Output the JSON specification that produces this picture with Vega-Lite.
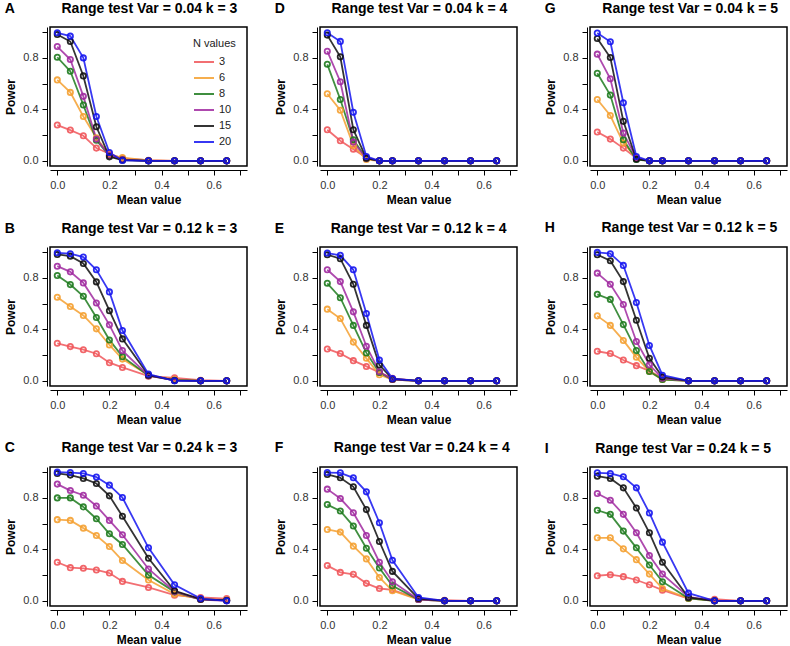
{
"$schema":"https://vega.github.io/schema/vega-lite/v6.json",
"background":"white",
"padding":{"left":3,"top":0,"right":2,"bottom":0},
"datasets":{"rows":[
{"panel":"A","N":3,"mean":0,"power":0.278},{"panel":"A","N":3,"mean":0.05,"power":0.239},{"panel":"A","N":3,"mean":0.1,"power":0.195},{"panel":"A","N":3,"mean":0.15,"power":0.099},{"panel":"A","N":3,"mean":0.2,"power":0.055},{"panel":"A","N":3,"mean":0.25,"power":0.02},{"panel":"A","N":3,"mean":0.35,"power":0.005},{"panel":"A","N":3,"mean":0.45,"power":0},{"panel":"A","N":3,"mean":0.55,"power":0},{"panel":"A","N":3,"mean":0.65,"power":0},
{"panel":"A","N":6,"mean":0,"power":0.629},{"panel":"A","N":6,"mean":0.05,"power":0.532},{"panel":"A","N":6,"mean":0.1,"power":0.345},{"panel":"A","N":6,"mean":0.15,"power":0.18},{"panel":"A","N":6,"mean":0.2,"power":0.047},{"panel":"A","N":6,"mean":0.25,"power":0.025},{"panel":"A","N":6,"mean":0.35,"power":0.003},{"panel":"A","N":6,"mean":0.45,"power":0},{"panel":"A","N":6,"mean":0.55,"power":0},{"panel":"A","N":6,"mean":0.65,"power":0},
{"panel":"A","N":8,"mean":0,"power":0.805},{"panel":"A","N":8,"mean":0.05,"power":0.696},{"panel":"A","N":8,"mean":0.1,"power":0.434},{"panel":"A","N":8,"mean":0.15,"power":0.16},{"panel":"A","N":8,"mean":0.2,"power":0.04},{"panel":"A","N":8,"mean":0.25,"power":0.01},{"panel":"A","N":8,"mean":0.35,"power":0},{"panel":"A","N":8,"mean":0.45,"power":0},{"panel":"A","N":8,"mean":0.55,"power":0},{"panel":"A","N":8,"mean":0.65,"power":0},
{"panel":"A","N":10,"mean":0,"power":0.888},{"panel":"A","N":10,"mean":0.05,"power":0.787},{"panel":"A","N":10,"mean":0.1,"power":0.501},{"panel":"A","N":10,"mean":0.15,"power":0.169},{"panel":"A","N":10,"mean":0.2,"power":0.044},{"panel":"A","N":10,"mean":0.25,"power":0.01},{"panel":"A","N":10,"mean":0.35,"power":0},{"panel":"A","N":10,"mean":0.45,"power":0},{"panel":"A","N":10,"mean":0.55,"power":0},{"panel":"A","N":10,"mean":0.65,"power":0},
{"panel":"A","N":15,"mean":0,"power":0.982},{"panel":"A","N":15,"mean":0.05,"power":0.927},{"panel":"A","N":15,"mean":0.1,"power":0.66},{"panel":"A","N":15,"mean":0.15,"power":0.265},{"panel":"A","N":15,"mean":0.2,"power":0.031},{"panel":"A","N":15,"mean":0.25,"power":0.005},{"panel":"A","N":15,"mean":0.35,"power":0},{"panel":"A","N":15,"mean":0.45,"power":0},{"panel":"A","N":15,"mean":0.55,"power":0},{"panel":"A","N":15,"mean":0.65,"power":0},
{"panel":"A","N":20,"mean":0,"power":0.995},{"panel":"A","N":20,"mean":0.05,"power":0.969},{"panel":"A","N":20,"mean":0.1,"power":0.8},{"panel":"A","N":20,"mean":0.15,"power":0.345},{"panel":"A","N":20,"mean":0.2,"power":0.065},{"panel":"A","N":20,"mean":0.25,"power":0.003},{"panel":"A","N":20,"mean":0.35,"power":0},{"panel":"A","N":20,"mean":0.45,"power":0},{"panel":"A","N":20,"mean":0.55,"power":0},{"panel":"A","N":20,"mean":0.65,"power":0},

{"panel":"D","N":3,"mean":0,"power":0.242},{"panel":"D","N":3,"mean":0.05,"power":0.156},{"panel":"D","N":3,"mean":0.1,"power":0.091},{"panel":"D","N":3,"mean":0.15,"power":0.025},{"panel":"D","N":3,"mean":0.2,"power":0},{"panel":"D","N":3,"mean":0.25,"power":0},{"panel":"D","N":3,"mean":0.35,"power":0},{"panel":"D","N":3,"mean":0.45,"power":0},{"panel":"D","N":3,"mean":0.55,"power":0},{"panel":"D","N":3,"mean":0.65,"power":0},
{"panel":"D","N":6,"mean":0,"power":0.521},{"panel":"D","N":6,"mean":0.05,"power":0.393},{"panel":"D","N":6,"mean":0.1,"power":0.12},{"panel":"D","N":6,"mean":0.15,"power":0.01},{"panel":"D","N":6,"mean":0.2,"power":0},{"panel":"D","N":6,"mean":0.25,"power":0},{"panel":"D","N":6,"mean":0.35,"power":0},{"panel":"D","N":6,"mean":0.45,"power":0},{"panel":"D","N":6,"mean":0.55,"power":0},{"panel":"D","N":6,"mean":0.65,"power":0},
{"panel":"D","N":8,"mean":0,"power":0.75},{"panel":"D","N":8,"mean":0.05,"power":0.477},{"panel":"D","N":8,"mean":0.1,"power":0.164},{"panel":"D","N":8,"mean":0.15,"power":0.02},{"panel":"D","N":8,"mean":0.2,"power":0},{"panel":"D","N":8,"mean":0.25,"power":0},{"panel":"D","N":8,"mean":0.35,"power":0},{"panel":"D","N":8,"mean":0.45,"power":0},{"panel":"D","N":8,"mean":0.55,"power":0},{"panel":"D","N":8,"mean":0.65,"power":0},
{"panel":"D","N":10,"mean":0,"power":0.852},{"panel":"D","N":10,"mean":0.05,"power":0.615},{"panel":"D","N":10,"mean":0.1,"power":0.146},{"panel":"D","N":10,"mean":0.15,"power":0.02},{"panel":"D","N":10,"mean":0.2,"power":0},{"panel":"D","N":10,"mean":0.25,"power":0},{"panel":"D","N":10,"mean":0.35,"power":0},{"panel":"D","N":10,"mean":0.45,"power":0},{"panel":"D","N":10,"mean":0.55,"power":0},{"panel":"D","N":10,"mean":0.65,"power":0},
{"panel":"D","N":15,"mean":0,"power":0.977},{"panel":"D","N":15,"mean":0.05,"power":0.808},{"panel":"D","N":15,"mean":0.1,"power":0.242},{"panel":"D","N":15,"mean":0.15,"power":0.02},{"panel":"D","N":15,"mean":0.2,"power":0},{"panel":"D","N":15,"mean":0.25,"power":0},{"panel":"D","N":15,"mean":0.35,"power":0},{"panel":"D","N":15,"mean":0.45,"power":0},{"panel":"D","N":15,"mean":0.55,"power":0},{"panel":"D","N":15,"mean":0.65,"power":0},
{"panel":"D","N":20,"mean":0,"power":0.995},{"panel":"D","N":20,"mean":0.05,"power":0.928},{"panel":"D","N":20,"mean":0.1,"power":0.378},{"panel":"D","N":20,"mean":0.15,"power":0.034},{"panel":"D","N":20,"mean":0.2,"power":0},{"panel":"D","N":20,"mean":0.25,"power":0},{"panel":"D","N":20,"mean":0.35,"power":0},{"panel":"D","N":20,"mean":0.45,"power":0},{"panel":"D","N":20,"mean":0.55,"power":0},{"panel":"D","N":20,"mean":0.65,"power":0},

{"panel":"G","N":3,"mean":0,"power":0.224},{"panel":"G","N":3,"mean":0.05,"power":0.169},{"panel":"G","N":3,"mean":0.1,"power":0.099},{"panel":"G","N":3,"mean":0.15,"power":0.02},{"panel":"G","N":3,"mean":0.2,"power":0},{"panel":"G","N":3,"mean":0.25,"power":0},{"panel":"G","N":3,"mean":0.35,"power":0},{"panel":"G","N":3,"mean":0.45,"power":0},{"panel":"G","N":3,"mean":0.55,"power":0},{"panel":"G","N":3,"mean":0.65,"power":0},
{"panel":"G","N":6,"mean":0,"power":0.477},{"panel":"G","N":6,"mean":0.05,"power":0.352},{"panel":"G","N":6,"mean":0.1,"power":0.138},{"panel":"G","N":6,"mean":0.15,"power":0.02},{"panel":"G","N":6,"mean":0.2,"power":0},{"panel":"G","N":6,"mean":0.25,"power":0},{"panel":"G","N":6,"mean":0.35,"power":0},{"panel":"G","N":6,"mean":0.45,"power":0},{"panel":"G","N":6,"mean":0.55,"power":0},{"panel":"G","N":6,"mean":0.65,"power":0},
{"panel":"G","N":8,"mean":0,"power":0.68},{"panel":"G","N":8,"mean":0.05,"power":0.511},{"panel":"G","N":8,"mean":0.1,"power":0.164},{"panel":"G","N":8,"mean":0.15,"power":0.01},{"panel":"G","N":8,"mean":0.2,"power":0},{"panel":"G","N":8,"mean":0.25,"power":0},{"panel":"G","N":8,"mean":0.35,"power":0},{"panel":"G","N":8,"mean":0.45,"power":0},{"panel":"G","N":8,"mean":0.55,"power":0},{"panel":"G","N":8,"mean":0.65,"power":0},
{"panel":"G","N":10,"mean":0,"power":0.829},{"panel":"G","N":10,"mean":0.05,"power":0.638},{"panel":"G","N":10,"mean":0.1,"power":0.216},{"panel":"G","N":10,"mean":0.15,"power":0.02},{"panel":"G","N":10,"mean":0.2,"power":0},{"panel":"G","N":10,"mean":0.25,"power":0},{"panel":"G","N":10,"mean":0.35,"power":0},{"panel":"G","N":10,"mean":0.45,"power":0},{"panel":"G","N":10,"mean":0.55,"power":0},{"panel":"G","N":10,"mean":0.65,"power":0},
{"panel":"G","N":15,"mean":0,"power":0.951},{"panel":"G","N":15,"mean":0.05,"power":0.803},{"panel":"G","N":15,"mean":0.1,"power":0.307},{"panel":"G","N":15,"mean":0.15,"power":0.013},{"panel":"G","N":15,"mean":0.2,"power":0},{"panel":"G","N":15,"mean":0.25,"power":0},{"panel":"G","N":15,"mean":0.35,"power":0},{"panel":"G","N":15,"mean":0.45,"power":0},{"panel":"G","N":15,"mean":0.55,"power":0},{"panel":"G","N":15,"mean":0.65,"power":0},
{"panel":"G","N":20,"mean":0,"power":0.993},{"panel":"G","N":20,"mean":0.05,"power":0.925},{"panel":"G","N":20,"mean":0.1,"power":0.451},{"panel":"G","N":20,"mean":0.15,"power":0.034},{"panel":"G","N":20,"mean":0.2,"power":0},{"panel":"G","N":20,"mean":0.25,"power":0},{"panel":"G","N":20,"mean":0.35,"power":0},{"panel":"G","N":20,"mean":0.45,"power":0},{"panel":"G","N":20,"mean":0.55,"power":0},{"panel":"G","N":20,"mean":0.65,"power":0},

{"panel":"B","N":3,"mean":0,"power":0.292},{"panel":"B","N":3,"mean":0.05,"power":0.266},{"panel":"B","N":3,"mean":0.1,"power":0.242},{"panel":"B","N":3,"mean":0.15,"power":0.211},{"panel":"B","N":3,"mean":0.2,"power":0.141},{"panel":"B","N":3,"mean":0.25,"power":0.104},{"panel":"B","N":3,"mean":0.35,"power":0.036},{"panel":"B","N":3,"mean":0.45,"power":0.023},{"panel":"B","N":3,"mean":0.55,"power":0.005},{"panel":"B","N":3,"mean":0.65,"power":0},
{"panel":"B","N":6,"mean":0,"power":0.649},{"panel":"B","N":6,"mean":0.05,"power":0.578},{"panel":"B","N":6,"mean":0.1,"power":0.508},{"panel":"B","N":6,"mean":0.15,"power":0.404},{"panel":"B","N":6,"mean":0.2,"power":0.279},{"panel":"B","N":6,"mean":0.25,"power":0.169},{"panel":"B","N":6,"mean":0.35,"power":0.044},{"panel":"B","N":6,"mean":0.45,"power":0.01},{"panel":"B","N":6,"mean":0.55,"power":0},{"panel":"B","N":6,"mean":0.65,"power":0},
{"panel":"B","N":8,"mean":0,"power":0.818},{"panel":"B","N":8,"mean":0.05,"power":0.748},{"panel":"B","N":8,"mean":0.1,"power":0.657},{"panel":"B","N":8,"mean":0.15,"power":0.492},{"panel":"B","N":8,"mean":0.2,"power":0.318},{"panel":"B","N":8,"mean":0.25,"power":0.188},{"panel":"B","N":8,"mean":0.35,"power":0.04},{"panel":"B","N":8,"mean":0.45,"power":0.005},{"panel":"B","N":8,"mean":0.55,"power":0},{"panel":"B","N":8,"mean":0.65,"power":0},
{"panel":"B","N":10,"mean":0,"power":0.891},{"panel":"B","N":10,"mean":0.05,"power":0.847},{"panel":"B","N":10,"mean":0.1,"power":0.761},{"panel":"B","N":10,"mean":0.15,"power":0.605},{"panel":"B","N":10,"mean":0.2,"power":0.435},{"panel":"B","N":10,"mean":0.25,"power":0.235},{"panel":"B","N":10,"mean":0.35,"power":0.04},{"panel":"B","N":10,"mean":0.45,"power":0.003},{"panel":"B","N":10,"mean":0.55,"power":0},{"panel":"B","N":10,"mean":0.65,"power":0},
{"panel":"B","N":15,"mean":0,"power":0.982},{"panel":"B","N":15,"mean":0.05,"power":0.969},{"panel":"B","N":15,"mean":0.1,"power":0.912},{"panel":"B","N":15,"mean":0.15,"power":0.769},{"panel":"B","N":15,"mean":0.2,"power":0.545},{"panel":"B","N":15,"mean":0.25,"power":0.326},{"panel":"B","N":15,"mean":0.35,"power":0.044},{"panel":"B","N":15,"mean":0.45,"power":0.003},{"panel":"B","N":15,"mean":0.55,"power":0},{"panel":"B","N":15,"mean":0.65,"power":0},
{"panel":"B","N":20,"mean":0,"power":0.995},{"panel":"B","N":20,"mean":0.05,"power":0.988},{"panel":"B","N":20,"mean":0.1,"power":0.962},{"panel":"B","N":20,"mean":0.15,"power":0.863},{"panel":"B","N":20,"mean":0.2,"power":0.691},{"panel":"B","N":20,"mean":0.25,"power":0.391},{"panel":"B","N":20,"mean":0.35,"power":0.052},{"panel":"B","N":20,"mean":0.45,"power":0},{"panel":"B","N":20,"mean":0.55,"power":0},{"panel":"B","N":20,"mean":0.65,"power":0},

{"panel":"E","N":3,"mean":0,"power":0.248},{"panel":"E","N":3,"mean":0.05,"power":0.212},{"panel":"E","N":3,"mean":0.1,"power":0.157},{"panel":"E","N":3,"mean":0.15,"power":0.112},{"panel":"E","N":3,"mean":0.2,"power":0.065},{"panel":"E","N":3,"mean":0.25,"power":0.02},{"panel":"E","N":3,"mean":0.35,"power":0},{"panel":"E","N":3,"mean":0.45,"power":0},{"panel":"E","N":3,"mean":0.55,"power":0},{"panel":"E","N":3,"mean":0.65,"power":0},
{"panel":"E","N":6,"mean":0,"power":0.557},{"panel":"E","N":6,"mean":0.05,"power":0.484},{"panel":"E","N":6,"mean":0.1,"power":0.301},{"panel":"E","N":6,"mean":0.15,"power":0.175},{"panel":"E","N":6,"mean":0.2,"power":0.047},{"panel":"E","N":6,"mean":0.25,"power":0.01},{"panel":"E","N":6,"mean":0.35,"power":0},{"panel":"E","N":6,"mean":0.45,"power":0},{"panel":"E","N":6,"mean":0.55,"power":0},{"panel":"E","N":6,"mean":0.65,"power":0},
{"panel":"E","N":8,"mean":0,"power":0.758},{"panel":"E","N":8,"mean":0.05,"power":0.646},{"panel":"E","N":8,"mean":0.1,"power":0.431},{"panel":"E","N":8,"mean":0.15,"power":0.217},{"panel":"E","N":8,"mean":0.2,"power":0.065},{"panel":"E","N":8,"mean":0.25,"power":0.01},{"panel":"E","N":8,"mean":0.35,"power":0},{"panel":"E","N":8,"mean":0.45,"power":0},{"panel":"E","N":8,"mean":0.55,"power":0},{"panel":"E","N":8,"mean":0.65,"power":0},
{"panel":"E","N":10,"mean":0,"power":0.863},{"panel":"E","N":10,"mean":0.05,"power":0.771},{"panel":"E","N":10,"mean":0.1,"power":0.536},{"panel":"E","N":10,"mean":0.15,"power":0.269},{"panel":"E","N":10,"mean":0.2,"power":0.071},{"panel":"E","N":10,"mean":0.25,"power":0.01},{"panel":"E","N":10,"mean":0.35,"power":0},{"panel":"E","N":10,"mean":0.45,"power":0},{"panel":"E","N":10,"mean":0.55,"power":0},{"panel":"E","N":10,"mean":0.65,"power":0},
{"panel":"E","N":15,"mean":0,"power":0.98},{"panel":"E","N":15,"mean":0.05,"power":0.949},{"panel":"E","N":15,"mean":0.1,"power":0.75},{"panel":"E","N":15,"mean":0.15,"power":0.431},{"panel":"E","N":15,"mean":0.2,"power":0.123},{"panel":"E","N":15,"mean":0.25,"power":0.015},{"panel":"E","N":15,"mean":0.35,"power":0},{"panel":"E","N":15,"mean":0.45,"power":0},{"panel":"E","N":15,"mean":0.55,"power":0},{"panel":"E","N":15,"mean":0.65,"power":0},
{"panel":"E","N":20,"mean":0,"power":0.993},{"panel":"E","N":20,"mean":0.05,"power":0.975},{"panel":"E","N":20,"mean":0.1,"power":0.863},{"panel":"E","N":20,"mean":0.15,"power":0.523},{"panel":"E","N":20,"mean":0.2,"power":0.162},{"panel":"E","N":20,"mean":0.25,"power":0.018},{"panel":"E","N":20,"mean":0.35,"power":0},{"panel":"E","N":20,"mean":0.45,"power":0},{"panel":"E","N":20,"mean":0.55,"power":0},{"panel":"E","N":20,"mean":0.65,"power":0},

{"panel":"H","N":3,"mean":0,"power":0.23},{"panel":"H","N":3,"mean":0.05,"power":0.212},{"panel":"H","N":3,"mean":0.1,"power":0.162},{"panel":"H","N":3,"mean":0.15,"power":0.118},{"panel":"H","N":3,"mean":0.2,"power":0.078},{"panel":"H","N":3,"mean":0.25,"power":0.02},{"panel":"H","N":3,"mean":0.35,"power":0},{"panel":"H","N":3,"mean":0.45,"power":0},{"panel":"H","N":3,"mean":0.55,"power":0},{"panel":"H","N":3,"mean":0.65,"power":0},
{"panel":"H","N":6,"mean":0,"power":0.505},{"panel":"H","N":6,"mean":0.05,"power":0.431},{"panel":"H","N":6,"mean":0.1,"power":0.314},{"panel":"H","N":6,"mean":0.15,"power":0.183},{"panel":"H","N":6,"mean":0.2,"power":0.073},{"panel":"H","N":6,"mean":0.25,"power":0.01},{"panel":"H","N":6,"mean":0.35,"power":0},{"panel":"H","N":6,"mean":0.45,"power":0},{"panel":"H","N":6,"mean":0.55,"power":0},{"panel":"H","N":6,"mean":0.65,"power":0},
{"panel":"H","N":8,"mean":0,"power":0.672},{"panel":"H","N":8,"mean":0.05,"power":0.633},{"panel":"H","N":8,"mean":0.1,"power":0.437},{"panel":"H","N":8,"mean":0.15,"power":0.235},{"panel":"H","N":8,"mean":0.2,"power":0.073},{"panel":"H","N":8,"mean":0.25,"power":0.01},{"panel":"H","N":8,"mean":0.35,"power":0},{"panel":"H","N":8,"mean":0.45,"power":0},{"panel":"H","N":8,"mean":0.55,"power":0},{"panel":"H","N":8,"mean":0.65,"power":0},
{"panel":"H","N":10,"mean":0,"power":0.837},{"panel":"H","N":10,"mean":0.05,"power":0.75},{"panel":"H","N":10,"mean":0.1,"power":0.593},{"panel":"H","N":10,"mean":0.15,"power":0.306},{"panel":"H","N":10,"mean":0.2,"power":0.125},{"panel":"H","N":10,"mean":0.25,"power":0.02},{"panel":"H","N":10,"mean":0.35,"power":0},{"panel":"H","N":10,"mean":0.45,"power":0},{"panel":"H","N":10,"mean":0.55,"power":0},{"panel":"H","N":10,"mean":0.65,"power":0},
{"panel":"H","N":15,"mean":0,"power":0.98},{"panel":"H","N":15,"mean":0.05,"power":0.933},{"panel":"H","N":15,"mean":0.1,"power":0.771},{"panel":"H","N":15,"mean":0.15,"power":0.471},{"panel":"H","N":15,"mean":0.2,"power":0.175},{"panel":"H","N":15,"mean":0.25,"power":0.03},{"panel":"H","N":15,"mean":0.35,"power":0},{"panel":"H","N":15,"mean":0.45,"power":0},{"panel":"H","N":15,"mean":0.55,"power":0},{"panel":"H","N":15,"mean":0.65,"power":0},
{"panel":"H","N":20,"mean":0,"power":0.998},{"panel":"H","N":20,"mean":0.05,"power":0.988},{"panel":"H","N":20,"mean":0.1,"power":0.897},{"panel":"H","N":20,"mean":0.15,"power":0.609},{"panel":"H","N":20,"mean":0.2,"power":0.275},{"panel":"H","N":20,"mean":0.25,"power":0.044},{"panel":"H","N":20,"mean":0.35,"power":0},{"panel":"H","N":20,"mean":0.45,"power":0},{"panel":"H","N":20,"mean":0.55,"power":0},{"panel":"H","N":20,"mean":0.65,"power":0},

{"panel":"C","N":3,"mean":0,"power":0.3},{"panel":"C","N":3,"mean":0.05,"power":0.258},{"panel":"C","N":3,"mean":0.1,"power":0.253},{"panel":"C","N":3,"mean":0.15,"power":0.24},{"panel":"C","N":3,"mean":0.2,"power":0.216},{"panel":"C","N":3,"mean":0.25,"power":0.151},{"panel":"C","N":3,"mean":0.35,"power":0.104},{"panel":"C","N":3,"mean":0.45,"power":0.044},{"panel":"C","N":3,"mean":0.55,"power":0.026},{"panel":"C","N":3,"mean":0.65,"power":0.018},
{"panel":"C","N":6,"mean":0,"power":0.631},{"panel":"C","N":6,"mean":0.05,"power":0.625},{"panel":"C","N":6,"mean":0.1,"power":0.565},{"panel":"C","N":6,"mean":0.15,"power":0.508},{"panel":"C","N":6,"mean":0.2,"power":0.422},{"panel":"C","N":6,"mean":0.25,"power":0.313},{"panel":"C","N":6,"mean":0.35,"power":0.162},{"panel":"C","N":6,"mean":0.45,"power":0.052},{"panel":"C","N":6,"mean":0.55,"power":0.015},{"panel":"C","N":6,"mean":0.65,"power":0.005},
{"panel":"C","N":8,"mean":0,"power":0.8},{"panel":"C","N":8,"mean":0.05,"power":0.8},{"panel":"C","N":8,"mean":0.1,"power":0.73},{"panel":"C","N":8,"mean":0.15,"power":0.638},{"panel":"C","N":8,"mean":0.2,"power":0.521},{"panel":"C","N":8,"mean":0.25,"power":0.438},{"panel":"C","N":8,"mean":0.35,"power":0.2},{"panel":"C","N":8,"mean":0.45,"power":0.07},{"panel":"C","N":8,"mean":0.55,"power":0.01},{"panel":"C","N":8,"mean":0.65,"power":0.005},
{"panel":"C","N":10,"mean":0,"power":0.907},{"panel":"C","N":10,"mean":0.05,"power":0.857},{"panel":"C","N":10,"mean":0.1,"power":0.821},{"panel":"C","N":10,"mean":0.15,"power":0.737},{"panel":"C","N":10,"mean":0.2,"power":0.625},{"panel":"C","N":10,"mean":0.25,"power":0.513},{"panel":"C","N":10,"mean":0.35,"power":0.248},{"panel":"C","N":10,"mean":0.45,"power":0.073},{"panel":"C","N":10,"mean":0.55,"power":0.01},{"panel":"C","N":10,"mean":0.65,"power":0},
{"panel":"C","N":15,"mean":0,"power":0.99},{"panel":"C","N":15,"mean":0.05,"power":0.977},{"panel":"C","N":15,"mean":0.1,"power":0.951},{"panel":"C","N":15,"mean":0.15,"power":0.912},{"panel":"C","N":15,"mean":0.2,"power":0.816},{"panel":"C","N":15,"mean":0.25,"power":0.657},{"panel":"C","N":15,"mean":0.35,"power":0.331},{"panel":"C","N":15,"mean":0.45,"power":0.078},{"panel":"C","N":15,"mean":0.55,"power":0.013},{"panel":"C","N":15,"mean":0.65,"power":0.003},
{"panel":"C","N":20,"mean":0,"power":1.0},{"panel":"C","N":20,"mean":0.05,"power":0.997},{"panel":"C","N":20,"mean":0.1,"power":0.99},{"panel":"C","N":20,"mean":0.15,"power":0.962},{"panel":"C","N":20,"mean":0.2,"power":0.899},{"panel":"C","N":20,"mean":0.25,"power":0.803},{"panel":"C","N":20,"mean":0.35,"power":0.412},{"panel":"C","N":20,"mean":0.45,"power":0.125},{"panel":"C","N":20,"mean":0.55,"power":0.018},{"panel":"C","N":20,"mean":0.65,"power":0},

{"panel":"F","N":3,"mean":0,"power":0.274},{"panel":"F","N":3,"mean":0.05,"power":0.221},{"panel":"F","N":3,"mean":0.1,"power":0.206},{"panel":"F","N":3,"mean":0.15,"power":0.136},{"panel":"F","N":3,"mean":0.2,"power":0.096},{"panel":"F","N":3,"mean":0.25,"power":0.086},{"panel":"F","N":3,"mean":0.35,"power":0.013},{"panel":"F","N":3,"mean":0.45,"power":0.005},{"panel":"F","N":3,"mean":0.55,"power":0},{"panel":"F","N":3,"mean":0.65,"power":0},
{"panel":"F","N":6,"mean":0,"power":0.555},{"panel":"F","N":6,"mean":0.05,"power":0.534},{"panel":"F","N":6,"mean":0.1,"power":0.425},{"panel":"F","N":6,"mean":0.15,"power":0.326},{"panel":"F","N":6,"mean":0.2,"power":0.182},{"panel":"F","N":6,"mean":0.25,"power":0.078},{"panel":"F","N":6,"mean":0.35,"power":0.01},{"panel":"F","N":6,"mean":0.45,"power":0},{"panel":"F","N":6,"mean":0.55,"power":0},{"panel":"F","N":6,"mean":0.65,"power":0},
{"panel":"F","N":8,"mean":0,"power":0.748},{"panel":"F","N":8,"mean":0.05,"power":0.698},{"panel":"F","N":8,"mean":0.1,"power":0.581},{"panel":"F","N":8,"mean":0.15,"power":0.409},{"panel":"F","N":8,"mean":0.2,"power":0.255},{"panel":"F","N":8,"mean":0.25,"power":0.117},{"panel":"F","N":8,"mean":0.35,"power":0.01},{"panel":"F","N":8,"mean":0.45,"power":0},{"panel":"F","N":8,"mean":0.55,"power":0},{"panel":"F","N":8,"mean":0.65,"power":0},
{"panel":"F","N":10,"mean":0,"power":0.868},{"panel":"F","N":10,"mean":0.05,"power":0.795},{"panel":"F","N":10,"mean":0.1,"power":0.685},{"panel":"F","N":10,"mean":0.15,"power":0.508},{"panel":"F","N":10,"mean":0.2,"power":0.3},{"panel":"F","N":10,"mean":0.25,"power":0.149},{"panel":"F","N":10,"mean":0.35,"power":0.01},{"panel":"F","N":10,"mean":0.45,"power":0},{"panel":"F","N":10,"mean":0.55,"power":0},{"panel":"F","N":10,"mean":0.65,"power":0},
{"panel":"F","N":15,"mean":0,"power":0.982},{"panel":"F","N":15,"mean":0.05,"power":0.956},{"panel":"F","N":15,"mean":0.1,"power":0.886},{"panel":"F","N":15,"mean":0.15,"power":0.709},{"panel":"F","N":15,"mean":0.2,"power":0.461},{"panel":"F","N":15,"mean":0.25,"power":0.229},{"panel":"F","N":15,"mean":0.35,"power":0.018},{"panel":"F","N":15,"mean":0.45,"power":0},{"panel":"F","N":15,"mean":0.55,"power":0},{"panel":"F","N":15,"mean":0.65,"power":0},
{"panel":"F","N":20,"mean":0,"power":0.997},{"panel":"F","N":20,"mean":0.05,"power":0.995},{"panel":"F","N":20,"mean":0.1,"power":0.956},{"panel":"F","N":20,"mean":0.15,"power":0.847},{"panel":"F","N":20,"mean":0.2,"power":0.607},{"panel":"F","N":20,"mean":0.25,"power":0.315},{"panel":"F","N":20,"mean":0.35,"power":0.026},{"panel":"F","N":20,"mean":0.45,"power":0},{"panel":"F","N":20,"mean":0.55,"power":0},{"panel":"F","N":20,"mean":0.65,"power":0},

{"panel":"I","N":3,"mean":0,"power":0.195},{"panel":"I","N":3,"mean":0.05,"power":0.203},{"panel":"I","N":3,"mean":0.1,"power":0.188},{"panel":"I","N":3,"mean":0.15,"power":0.162},{"panel":"I","N":3,"mean":0.2,"power":0.125},{"panel":"I","N":3,"mean":0.25,"power":0.083},{"panel":"I","N":3,"mean":0.35,"power":0.018},{"panel":"I","N":3,"mean":0.45,"power":0.013},{"panel":"I","N":3,"mean":0.55,"power":0},{"panel":"I","N":3,"mean":0.65,"power":0},
{"panel":"I","N":6,"mean":0,"power":0.49},{"panel":"I","N":6,"mean":0.05,"power":0.49},{"panel":"I","N":6,"mean":0.1,"power":0.404},{"panel":"I","N":6,"mean":0.15,"power":0.32},{"panel":"I","N":6,"mean":0.2,"power":0.208},{"panel":"I","N":6,"mean":0.25,"power":0.096},{"panel":"I","N":6,"mean":0.35,"power":0.02},{"panel":"I","N":6,"mean":0.45,"power":0},{"panel":"I","N":6,"mean":0.55,"power":0},{"panel":"I","N":6,"mean":0.65,"power":0},
{"panel":"I","N":8,"mean":0,"power":0.704},{"panel":"I","N":8,"mean":0.05,"power":0.672},{"panel":"I","N":8,"mean":0.1,"power":0.542},{"panel":"I","N":8,"mean":0.15,"power":0.412},{"panel":"I","N":8,"mean":0.2,"power":0.279},{"panel":"I","N":8,"mean":0.25,"power":0.149},{"panel":"I","N":8,"mean":0.35,"power":0.02},{"panel":"I","N":8,"mean":0.45,"power":0},{"panel":"I","N":8,"mean":0.55,"power":0},{"panel":"I","N":8,"mean":0.65,"power":0},
{"panel":"I","N":10,"mean":0,"power":0.834},{"panel":"I","N":10,"mean":0.05,"power":0.782},{"panel":"I","N":10,"mean":0.1,"power":0.672},{"panel":"I","N":10,"mean":0.15,"power":0.529},{"panel":"I","N":10,"mean":0.2,"power":0.352},{"panel":"I","N":10,"mean":0.25,"power":0.208},{"panel":"I","N":10,"mean":0.35,"power":0.03},{"panel":"I","N":10,"mean":0.45,"power":0},{"panel":"I","N":10,"mean":0.55,"power":0},{"panel":"I","N":10,"mean":0.65,"power":0},
{"panel":"I","N":15,"mean":0,"power":0.969},{"panel":"I","N":15,"mean":0.05,"power":0.951},{"panel":"I","N":15,"mean":0.1,"power":0.878},{"panel":"I","N":15,"mean":0.15,"power":0.722},{"panel":"I","N":15,"mean":0.2,"power":0.529},{"panel":"I","N":15,"mean":0.25,"power":0.3},{"panel":"I","N":15,"mean":0.35,"power":0.026},{"panel":"I","N":15,"mean":0.45,"power":0},{"panel":"I","N":15,"mean":0.55,"power":0},{"panel":"I","N":15,"mean":0.65,"power":0},
{"panel":"I","N":20,"mean":0,"power":0.995},{"panel":"I","N":20,"mean":0.05,"power":0.99},{"panel":"I","N":20,"mean":0.1,"power":0.964},{"panel":"I","N":20,"mean":0.15,"power":0.878},{"panel":"I","N":20,"mean":0.2,"power":0.683},{"panel":"I","N":20,"mean":0.25,"power":0.456},{"panel":"I","N":20,"mean":0.35,"power":0.06},{"panel":"I","N":20,"mean":0.45,"power":0},{"panel":"I","N":20,"mean":0.55,"power":0},{"panel":"I","N":20,"mean":0.65,"power":0}
]},
"data":{"name":"rows"},
"columns":3,
"spacing":{"row":14,"column":25},
"resolve":{"scale":{"color":"independent"},"legend":{"color":"independent"}},
"concat":[
{"title":"A\u00a0\u00a0\u00a0\u00a0\u00a0\u00a0\u00a0\u00a0\u00a0\u00a0\u00a0\u00a0Range test Var = 0.04 k = 3","width":197,"height":139,"transform":[{"filter":"datum.panel === 'A'"}],
 "encoding":{"x":{"field":"mean","type":"quantitative","scale":{"domain":[-0.028,0.728],"nice":false,"zero":false},"axis":{"title":"Mean value","values":[0,0.1,0.2,0.3,0.4,0.5,0.6,0.7],"labelExpr":"round(datum.value*10)%2===0 ? format(datum.value,'.1f') : ''"}},
  "y":{"field":"power","type":"quantitative","scale":{"domain":[-0.04,1.04],"nice":false,"zero":false},"axis":{"title":"Power","values":[0,0.2,0.4,0.6,0.8,1],"labelExpr":"round(datum.value*10)%4===0 && datum.value<0.9 ? format(datum.value,'.1f') : ''"}},
  "color":{"field":"N","type":"nominal","scale":{"domain":[3,6,8,10,15,20],"range":["#F0565A","#F5A030","#1E7B1E","#A02AA0","#111111","#1515F0"]},"legend":{"title":"N values","orient":"top-right","offset":6,"padding":5,"titleFontSize":11,"titleFontWeight":"normal","titleColor":"#222","titleFont":"Liberation Sans","labelFont":"Liberation Sans","labelFontSize":11,"labelColor":"#222","symbolType":"stroke","symbolSize":400,"symbolStrokeWidth":2,"rowPadding":-8,"titlePadding":2,"labelOffset":4}}},
 "layer":[{"mark":{"type":"line","strokeWidth":1.8,"opacity":0.85}},{"mark":{"type":"point","filled":false,"size":28,"strokeWidth":1.8,"opacity":0.9}}]},
{"title":"D\u00a0\u00a0\u00a0\u00a0\u00a0\u00a0\u00a0\u00a0\u00a0\u00a0\u00a0\u00a0Range test Var = 0.04 k = 4","width":197,"height":139,"transform":[{"filter":"datum.panel === 'D'"}],
 "encoding":{"x":{"field":"mean","type":"quantitative","scale":{"domain":[-0.028,0.728],"nice":false,"zero":false},"axis":{"title":"Mean value","values":[0,0.1,0.2,0.3,0.4,0.5,0.6,0.7],"labelExpr":"round(datum.value*10)%2===0 ? format(datum.value,'.1f') : ''"}},
  "y":{"field":"power","type":"quantitative","scale":{"domain":[-0.04,1.04],"nice":false,"zero":false},"axis":{"title":"Power","values":[0,0.2,0.4,0.6,0.8,1],"labelExpr":"round(datum.value*10)%4===0 && datum.value<0.9 ? format(datum.value,'.1f') : ''"}},
  "color":{"field":"N","type":"nominal","scale":{"domain":[3,6,8,10,15,20],"range":["#F0565A","#F5A030","#1E7B1E","#A02AA0","#111111","#1515F0"]},"legend":null}},
 "layer":[{"mark":{"type":"line","strokeWidth":1.8,"opacity":0.85}},{"mark":{"type":"point","filled":false,"size":28,"strokeWidth":1.8,"opacity":0.9}}]},
{"title":"G\u00a0\u00a0\u00a0\u00a0\u00a0\u00a0\u00a0\u00a0\u00a0\u00a0\u00a0\u00a0Range test Var = 0.04 k = 5","width":197,"height":139,"transform":[{"filter":"datum.panel === 'G'"}],
 "encoding":{"x":{"field":"mean","type":"quantitative","scale":{"domain":[-0.028,0.728],"nice":false,"zero":false},"axis":{"title":"Mean value","values":[0,0.1,0.2,0.3,0.4,0.5,0.6,0.7],"labelExpr":"round(datum.value*10)%2===0 ? format(datum.value,'.1f') : ''"}},
  "y":{"field":"power","type":"quantitative","scale":{"domain":[-0.04,1.04],"nice":false,"zero":false},"axis":{"title":"Power","values":[0,0.2,0.4,0.6,0.8,1],"labelExpr":"round(datum.value*10)%4===0 && datum.value<0.9 ? format(datum.value,'.1f') : ''"}},
  "color":{"field":"N","type":"nominal","scale":{"domain":[3,6,8,10,15,20],"range":["#F0565A","#F5A030","#1E7B1E","#A02AA0","#111111","#1515F0"]},"legend":null}},
 "layer":[{"mark":{"type":"line","strokeWidth":1.8,"opacity":0.85}},{"mark":{"type":"point","filled":false,"size":28,"strokeWidth":1.8,"opacity":0.9}}]},
{"title":"B\u00a0\u00a0\u00a0\u00a0\u00a0\u00a0\u00a0\u00a0\u00a0\u00a0\u00a0\u00a0Range test Var = 0.12 k = 3","width":197,"height":139,"transform":[{"filter":"datum.panel === 'B'"}],
 "encoding":{"x":{"field":"mean","type":"quantitative","scale":{"domain":[-0.028,0.728],"nice":false,"zero":false},"axis":{"title":"Mean value","values":[0,0.1,0.2,0.3,0.4,0.5,0.6,0.7],"labelExpr":"round(datum.value*10)%2===0 ? format(datum.value,'.1f') : ''"}},
  "y":{"field":"power","type":"quantitative","scale":{"domain":[-0.04,1.04],"nice":false,"zero":false},"axis":{"title":"Power","values":[0,0.2,0.4,0.6,0.8,1],"labelExpr":"round(datum.value*10)%4===0 && datum.value<0.9 ? format(datum.value,'.1f') : ''"}},
  "color":{"field":"N","type":"nominal","scale":{"domain":[3,6,8,10,15,20],"range":["#F0565A","#F5A030","#1E7B1E","#A02AA0","#111111","#1515F0"]},"legend":null}},
 "layer":[{"mark":{"type":"line","strokeWidth":1.8,"opacity":0.85}},{"mark":{"type":"point","filled":false,"size":28,"strokeWidth":1.8,"opacity":0.9}}]},
{"title":"E\u00a0\u00a0\u00a0\u00a0\u00a0\u00a0\u00a0\u00a0\u00a0\u00a0\u00a0\u00a0Range test Var = 0.12 k = 4","width":197,"height":139,"transform":[{"filter":"datum.panel === 'E'"}],
 "encoding":{"x":{"field":"mean","type":"quantitative","scale":{"domain":[-0.028,0.728],"nice":false,"zero":false},"axis":{"title":"Mean value","values":[0,0.1,0.2,0.3,0.4,0.5,0.6,0.7],"labelExpr":"round(datum.value*10)%2===0 ? format(datum.value,'.1f') : ''"}},
  "y":{"field":"power","type":"quantitative","scale":{"domain":[-0.04,1.04],"nice":false,"zero":false},"axis":{"title":"Power","values":[0,0.2,0.4,0.6,0.8,1],"labelExpr":"round(datum.value*10)%4===0 && datum.value<0.9 ? format(datum.value,'.1f') : ''"}},
  "color":{"field":"N","type":"nominal","scale":{"domain":[3,6,8,10,15,20],"range":["#F0565A","#F5A030","#1E7B1E","#A02AA0","#111111","#1515F0"]},"legend":null}},
 "layer":[{"mark":{"type":"line","strokeWidth":1.8,"opacity":0.85}},{"mark":{"type":"point","filled":false,"size":28,"strokeWidth":1.8,"opacity":0.9}}]},
{"title":"H\u00a0\u00a0\u00a0\u00a0\u00a0\u00a0\u00a0\u00a0\u00a0\u00a0\u00a0\u00a0Range test Var = 0.12 k = 5","width":197,"height":139,"transform":[{"filter":"datum.panel === 'H'"}],
 "encoding":{"x":{"field":"mean","type":"quantitative","scale":{"domain":[-0.028,0.728],"nice":false,"zero":false},"axis":{"title":"Mean value","values":[0,0.1,0.2,0.3,0.4,0.5,0.6,0.7],"labelExpr":"round(datum.value*10)%2===0 ? format(datum.value,'.1f') : ''"}},
  "y":{"field":"power","type":"quantitative","scale":{"domain":[-0.04,1.04],"nice":false,"zero":false},"axis":{"title":"Power","values":[0,0.2,0.4,0.6,0.8,1],"labelExpr":"round(datum.value*10)%4===0 && datum.value<0.9 ? format(datum.value,'.1f') : ''"}},
  "color":{"field":"N","type":"nominal","scale":{"domain":[3,6,8,10,15,20],"range":["#F0565A","#F5A030","#1E7B1E","#A02AA0","#111111","#1515F0"]},"legend":null}},
 "layer":[{"mark":{"type":"line","strokeWidth":1.8,"opacity":0.85}},{"mark":{"type":"point","filled":false,"size":28,"strokeWidth":1.8,"opacity":0.9}}]},
{"title":"C\u00a0\u00a0\u00a0\u00a0\u00a0\u00a0\u00a0\u00a0\u00a0\u00a0\u00a0\u00a0Range test Var = 0.24 k = 3","width":197,"height":139,"transform":[{"filter":"datum.panel === 'C'"}],
 "encoding":{"x":{"field":"mean","type":"quantitative","scale":{"domain":[-0.028,0.728],"nice":false,"zero":false},"axis":{"title":"Mean value","values":[0,0.1,0.2,0.3,0.4,0.5,0.6,0.7],"labelExpr":"round(datum.value*10)%2===0 ? format(datum.value,'.1f') : ''"}},
  "y":{"field":"power","type":"quantitative","scale":{"domain":[-0.04,1.04],"nice":false,"zero":false},"axis":{"title":"Power","values":[0,0.2,0.4,0.6,0.8,1],"labelExpr":"round(datum.value*10)%4===0 && datum.value<0.9 ? format(datum.value,'.1f') : ''"}},
  "color":{"field":"N","type":"nominal","scale":{"domain":[3,6,8,10,15,20],"range":["#F0565A","#F5A030","#1E7B1E","#A02AA0","#111111","#1515F0"]},"legend":null}},
 "layer":[{"mark":{"type":"line","strokeWidth":1.8,"opacity":0.85}},{"mark":{"type":"point","filled":false,"size":28,"strokeWidth":1.8,"opacity":0.9}}]},
{"title":"F\u00a0\u00a0\u00a0\u00a0\u00a0\u00a0\u00a0\u00a0\u00a0\u00a0\u00a0\u00a0\u00a0Range test Var = 0.24 k = 4","width":197,"height":139,"transform":[{"filter":"datum.panel === 'F'"}],
 "encoding":{"x":{"field":"mean","type":"quantitative","scale":{"domain":[-0.028,0.728],"nice":false,"zero":false},"axis":{"title":"Mean value","values":[0,0.1,0.2,0.3,0.4,0.5,0.6,0.7],"labelExpr":"round(datum.value*10)%2===0 ? format(datum.value,'.1f') : ''"}},
  "y":{"field":"power","type":"quantitative","scale":{"domain":[-0.04,1.04],"nice":false,"zero":false},"axis":{"title":"Power","values":[0,0.2,0.4,0.6,0.8,1],"labelExpr":"round(datum.value*10)%4===0 && datum.value<0.9 ? format(datum.value,'.1f') : ''"}},
  "color":{"field":"N","type":"nominal","scale":{"domain":[3,6,8,10,15,20],"range":["#F0565A","#F5A030","#1E7B1E","#A02AA0","#111111","#1515F0"]},"legend":null}},
 "layer":[{"mark":{"type":"line","strokeWidth":1.8,"opacity":0.85}},{"mark":{"type":"point","filled":false,"size":28,"strokeWidth":1.8,"opacity":0.9}}]},
{"title":"\u00a0I\u00a0\u00a0\u00a0\u00a0\u00a0\u00a0\u00a0\u00a0\u00a0\u00a0\u00a0\u00a0Range test Var = 0.24 k = 5","width":197,"height":139,"transform":[{"filter":"datum.panel === 'I'"}],
 "encoding":{"x":{"field":"mean","type":"quantitative","scale":{"domain":[-0.028,0.728],"nice":false,"zero":false},"axis":{"title":"Mean value","values":[0,0.1,0.2,0.3,0.4,0.5,0.6,0.7],"labelExpr":"round(datum.value*10)%2===0 ? format(datum.value,'.1f') : ''"}},
  "y":{"field":"power","type":"quantitative","scale":{"domain":[-0.04,1.04],"nice":false,"zero":false},"axis":{"title":"Power","values":[0,0.2,0.4,0.6,0.8,1],"labelExpr":"round(datum.value*10)%4===0 && datum.value<0.9 ? format(datum.value,'.1f') : ''"}},
  "color":{"field":"N","type":"nominal","scale":{"domain":[3,6,8,10,15,20],"range":["#F0565A","#F5A030","#1E7B1E","#A02AA0","#111111","#1515F0"]},"legend":null}},
 "layer":[{"mark":{"type":"line","strokeWidth":1.8,"opacity":0.85}},{"mark":{"type":"point","filled":false,"size":28,"strokeWidth":1.8,"opacity":0.9}}]}
],
"config":{
 "view":{"stroke":"#000","strokeWidth":1.5},
 "axis":{"grid":false,"domainColor":"#000","tickColor":"#000","tickSize":5,"labelFont":"Liberation Sans","labelFontSize":11,"labelColor":"#333","labelPadding":4,"labelFlush":false,"titleFont":"Liberation Sans","titleFontSize":12,"titleFontWeight":"bold","titleColor":"#000"},
 "axisX":{"offset":4,"titlePadding":4},
 "axisY":{"offset":3,"titlePadding":5},
 "title":{"font":"Liberation Sans","fontSize":14,"fontWeight":"bold","color":"#000","anchor":"start","frame":"bounds","offset":11}
}
}
